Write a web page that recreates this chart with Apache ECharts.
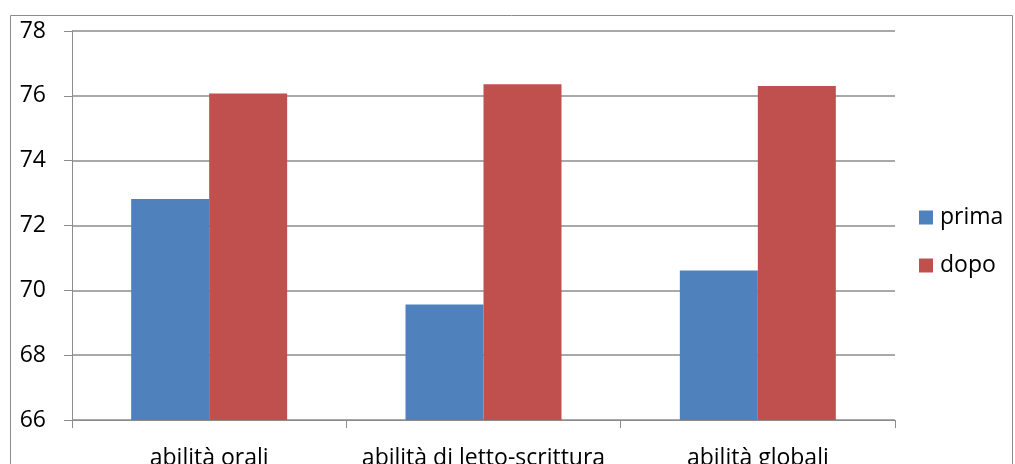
<!DOCTYPE html>
<html>
<head>
<meta charset="utf-8">
<script src="https://cdn.jsdelivr.net/npm/echarts@6/dist/echarts.min.js"></script>
<style>
  html, body { margin: 0; padding: 0; background: #fff; }
  #chart { width: 1015px; height: 464px; }
</style>
</head>
<body>
<div id="chart"></div>
<script>
// Punteggi medi prima e dopo, per area di abilità
const categories = ['abilità orali', 'abilità di letto-scrittura', 'abilità globali'];
const prima = [72.82, 69.56, 70.61];
const dopo = [76.07, 76.36, 76.30];
const seriesNames = ['prima', 'dopo'];
const yTicks = { min: 66, max: 78, interval: 2 };

const font = 'Open Sans, Noto Sans, sans-serif';
const gridGray = '#8c8c8c';

const chart = echarts.init(document.getElementById('chart'), null, { renderer: 'canvas' });
chart.setOption({
  animation: false,
  backgroundColor: '#fff',
  graphic: [{
    type: 'rect',
    shape: { x: 10.5, y: 15.5, width: 1002, height: 470 },
    style: { fill: 'none', stroke: '#8c8c8c', lineWidth: 1 },
    silent: true
  }],
  grid: {
    left: 72, top: 31, width: 823, height: 389,
    containLabel: false,
    outerBoundsMode: 'none'
  },
  legend: {
    orient: 'vertical',
    left: 919,
    top: 206,
    padding: 0,
    itemWidth: 14,
    itemHeight: 14,
    itemGap: 25,
    icon: 'rect',
    textStyle: { fontFamily: font, fontSize: 23, color: '#000', padding: [0, 0, 0, 2] },
    data: seriesNames
  },
  xAxis: {
    type: 'category',
    data: categories,
    axisLine: { show: true, lineStyle: { color: gridGray, width: 1 } },
    axisTick: { show: true, length: 8, alignWithLabel: false, lineStyle: { color: gridGray } },
    axisLabel: {
      interval: 0,
      hideOverlap: false,
      fontFamily: font, fontSize: 23, color: '#000', margin: 27
    }
  },
  yAxis: {
    type: 'value',
    min: yTicks.min,
    max: yTicks.max,
    interval: yTicks.interval,
    axisLine: { show: true, lineStyle: { color: gridGray, width: 1 } },
    axisTick: { show: true, length: 8, lineStyle: { color: gridGray } },
    axisLabel: { fontFamily: font, fontSize: 23, color: '#000', margin: 26 },
    splitLine: { show: true, lineStyle: { color: gridGray, width: 1.5 } }
  },
  series: [
    {
      name: seriesNames[0],
      type: 'bar',
      data: prima,
      barWidth: 78,
      barGap: '0%',
      itemStyle: { color: '#4F81BD' }
    },
    {
      name: seriesNames[1],
      type: 'bar',
      data: dopo,
      barWidth: 78,
      barGap: '0%',
      itemStyle: { color: '#C0504D' }
    }
  ]
});
</script>
</body>
</html>
